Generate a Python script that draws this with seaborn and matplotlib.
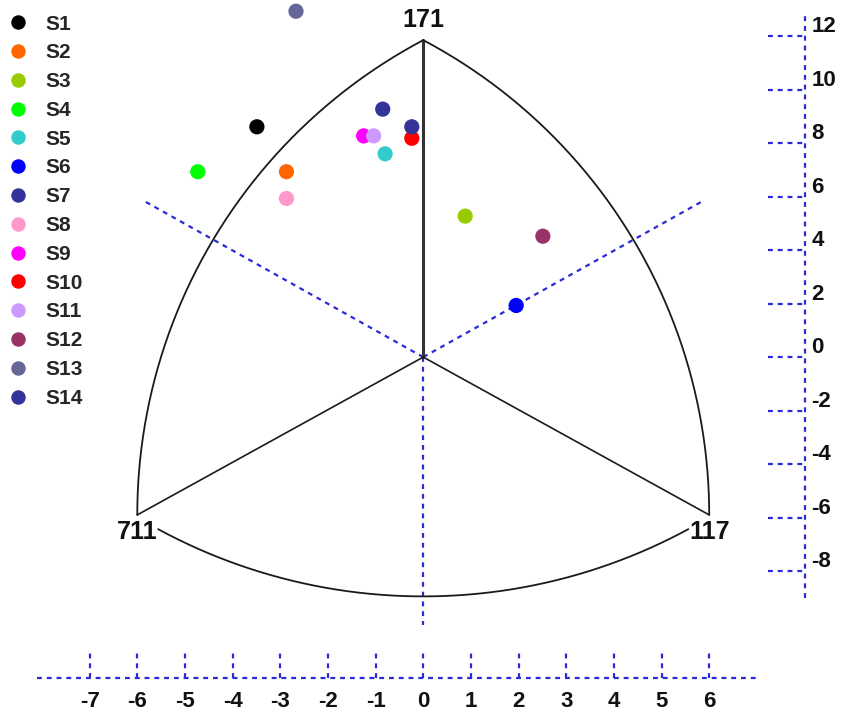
import numpy as np
import pandas as pd
import matplotlib
matplotlib.use("Agg")
import matplotlib.pyplot as plt
import seaborn as sns
from matplotlib import font_manager

# ---- sample scores -------------------------------------------------------
samples = ["S1", "S2", "S3", "S4", "S5", "S6", "S7",
           "S8", "S9", "S10", "S11", "S12", "S13", "S14"]
x_vals = [-3.49, -2.87, 0.88, -4.73, -0.80, 1.95, -0.85,
          -2.87, -1.25, -0.24, -1.04, 2.51, -2.67, -0.24]
y_vals = [8.61, 6.93, 5.27, 6.93, 7.60, 1.93, 9.27,
          5.93, 8.27, 8.18, 8.27, 4.52, 12.93, 8.61]
colors = ["#000000", "#FF6600", "#99CC00", "#00FF00", "#33CCCC", "#0000FF",
          "#333399", "#FF99CC", "#FF00FF", "#FF0000", "#CC99FF", "#993366",
          "#666699", "#333399"]

# ---- triangle frame ------------------------------------------------------
vertex_labels = ["171", "711", "117"]
vertex_x = [0.0, -6.0, 6.0]
vertex_y = [11.85, -5.9, -5.9]
# dashed guide lines leaving the centre
guide_x = [-5.86, 5.87, 0.0]
guide_y = [5.84, 5.84, -10.0]

# ---- scale ticks ---------------------------------------------------------
x_ticks = list(range(-7, 7))
y_ticks = list(range(-8, 13, 2))


def pick_font(names):
    for n in names:
        try:
            font_manager.findfont(font_manager.FontProperties(family=n),
                                  fallback_to_default=False)
            return n
        except ValueError:
            continue
    return "DejaVu Sans"


sns.set_theme(style="white")
font = pick_font(["Liberation Sans", "Arial", "DejaVu Sans"])
plt.rcParams["font.family"] = [font, "DejaVu Sans"]
plt.rcParams["font.weight"] = "bold"

fig = plt.figure(figsize=(8.46, 7.15), dpi=100)
ax = fig.add_axes([0, 0, 1, 1])
ax.set_xlim(-8.88, 8.87)
ax.set_ylim(-13.38, 13.35)
ax.axis("off")

blue = "#2a2ad8"
dash = (0, (2.2, 2.2))
ink = "#1a1a1a"

# guide lines (dashed, blue)
for gx, gy in zip(guide_x, guide_y):
    ax.plot([0, gx], [0, gy], color=blue, lw=1.6, ls=dash, zorder=1)

# straight spokes from the centre to each vertex
for i, (vx, vy) in enumerate(zip(vertex_x, vertex_y)):
    ax.plot([0, vx], [0, vy], color="#333333" if i == 0 else ink,
            lw=2.2 if i == 0 else 1.2, zorder=2)

# curved sides: circles computed in display space so they stay round
fig.canvas.draw()
to_disp = ax.transData.transform
to_data = ax.transData.inverted().transform
T = to_disp((vertex_x[0], vertex_y[0]))
L = to_disp((vertex_x[1], vertex_y[1]))
R = to_disp((vertex_x[2], vertex_y[2]))


def arc(center, radius, a0, a1, n=200):
    t = np.linspace(a0, a1, n)
    pts = np.column_stack([center[0] + radius * np.cos(t),
                           center[1] + radius * np.sin(t)])
    return to_data(pts)


# left side: vertical tangent at the left vertex, passing through the top
cx = (T[0] ** 2 + (T[1] - L[1]) ** 2 - L[0] ** 2) / (2 * (T[0] - L[0]))
rl = cx - L[0]
aT = np.arctan2(T[1] - L[1], T[0] - cx)
p = arc((cx, L[1]), rl, aT, np.pi)
ax.plot(p[:, 0], p[:, 1], color=ink, lw=1.3, zorder=2)
# right side (mirror)
cxr = 2 * T[0] - cx
aTr = np.arctan2(T[1] - R[1], T[0] - cxr)
p = arc((cxr, R[1]), rl, aTr, 0.0)
ax.plot(p[:, 0], p[:, 1], color=ink, lw=1.3, zorder=2)
# bottom side: centred on the top vertex
rb = np.hypot(*(L - T))
aL = np.arctan2(L[1] - T[1], L[0] - T[0])
aR = np.arctan2(R[1] - T[1], R[0] - T[0])
gap = np.deg2rad(2.6)
p = arc(T, rb + 2, aL + gap, aR - gap)
ax.plot(p[:, 0], p[:, 1], color=ink, lw=1.3, zorder=2)

# vertex labels
ax.text(vertex_x[0], vertex_y[0] + 0.3, vertex_labels[0], ha="center",
        va="bottom", fontsize=18, fontweight="bold", color="#111111")
ax.text(vertex_x[1], vertex_y[1] - 0.2, vertex_labels[1], ha="center",
        va="top", fontsize=18, fontweight="bold", color="#111111")
ax.text(vertex_x[2], vertex_y[2] - 0.2, vertex_labels[2], ha="center",
        va="top", fontsize=18, fontweight="bold", color="#111111")

# sample points
df = pd.DataFrame({"sample": samples, "x": x_vals, "y": y_vals})
sns.scatterplot(data=df, x="x", y="y", hue="sample", hue_order=samples,
                palette=dict(zip(samples, colors)), s=120, linewidth=0,
                ax=ax, zorder=5, legend=True)
ax.set_xlabel("")
ax.set_ylabel("")
ax.set_xlim(-8.88, 8.87)
ax.set_ylim(-13.38, 13.35)
ax.axis("off")

# right-hand vertical scale
ax_x = 8.0
ax.plot([ax_x, ax_x], [-9.0, 12.9], color=blue, lw=1.6, ls=dash, zorder=1)
for yt in y_ticks:
    ax.plot([7.23, ax_x], [yt, yt], color=blue, lw=1.6, ls=dash, zorder=1)
    ax.text(ax_x + 0.14, yt - 0.05, f"{yt}", ha="left", va="bottom",
            fontsize=16, fontweight="bold", color="#111111")

# bottom horizontal scale
ax_y = -12.0
ax.plot([-8.1, 7.0], [ax_y, ax_y], color=blue, lw=1.6, ls=dash, zorder=1)
for xt in x_ticks:
    ax.plot([xt, xt], [ax_y, -11.07], color=blue, lw=1.6, ls=dash, zorder=1)
    ax.text(xt, ax_y - 0.5, f"{xt}", ha="center", va="top",
            fontsize=16, fontweight="bold", color="#111111")

# legend
handles, labels = ax.get_legend_handles_labels()
leg = ax.legend(handles, labels, loc="upper left",
                bbox_to_anchor=(-5 / 846, 1 - 2 / 715),
                frameon=False, borderaxespad=0, borderpad=0.6,
                handlelength=1.0, handletextpad=0.8, labelspacing=0.47,
                prop={"size": 15, "weight": "bold"}, markerscale=0.95)

fig.savefig("out.png", dpi=100)
